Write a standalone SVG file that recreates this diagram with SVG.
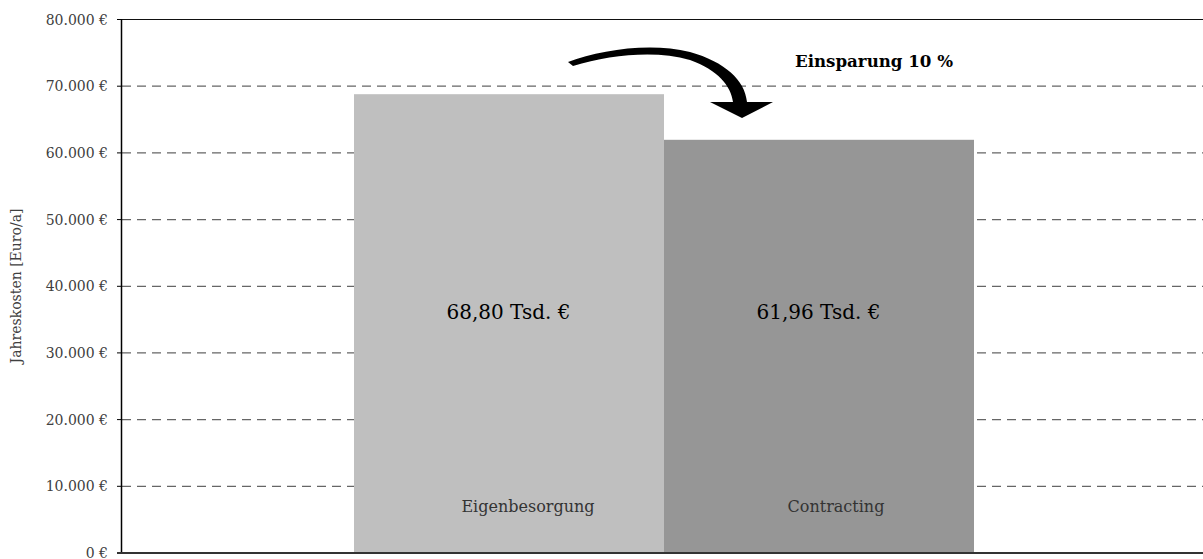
<svg xmlns="http://www.w3.org/2000/svg" width="1203" height="559" viewBox="0 0 1203 559">
<style>
.grid{stroke:#666;stroke-width:1.2;stroke-dasharray:9 6;fill:none}
.tick{stroke:#000;stroke-width:1}
.tl{font-family:"DejaVu Serif","Liberation Serif",serif;font-size:14px;fill:#404040;text-anchor:end}
.val{font-family:"DejaVu Serif","Liberation Serif",serif;font-size:20px;fill:#000;text-anchor:middle}
.cat{font-family:"DejaVu Serif","Liberation Serif",serif;font-size:16px;fill:#333;text-anchor:middle}
</style>
<rect width="1203" height="559" fill="#fff"/>
<g id="grid">
<line class="grid" x1="122" y1="486.3" x2="1203" y2="486.3"/>
<line class="grid" x1="122" y1="419.6" x2="1203" y2="419.6"/>
<line class="grid" x1="122" y1="352.9" x2="1203" y2="352.9"/>
<line class="grid" x1="122" y1="286.3" x2="1203" y2="286.3"/>
<line class="grid" x1="122" y1="219.6" x2="1203" y2="219.6"/>
<line class="grid" x1="122" y1="152.9" x2="1203" y2="152.9"/>
<line class="grid" x1="122" y1="86.2" x2="1203" y2="86.2"/>
<line x1="121" y1="19.5" x2="1203" y2="19.5" stroke="#111" stroke-width="1.2"/>
</g>
<g id="bar-eigenbesorgung">
<rect x="354" y="94.2" width="310" height="458.8" fill="#bfbfbf"/>
<text class="val" x="508.5" y="319">68,80 Tsd. €</text>
<text class="cat" x="528" y="512">Eigenbesorgung</text>
</g>
<g id="bar-contracting">
<rect x="664" y="139.8" width="310" height="413.2" fill="#969696"/>
<text class="val" x="818.5" y="319">61,96 Tsd. €</text>
<text class="cat" x="836" y="512">Contracting</text>
</g>
<g id="axes">
<line x1="121.5" y1="19" x2="121.5" y2="554" stroke="#000" stroke-width="1.5"/>
<line x1="117" y1="553" x2="1203" y2="553" stroke="#333" stroke-width="2"/>
<line class="tick" x1="117" y1="19.5" x2="121" y2="19.5"/>
<line class="tick" x1="117" y1="86.2" x2="121" y2="86.2"/>
<line class="tick" x1="117" y1="152.9" x2="121" y2="152.9"/>
<line class="tick" x1="117" y1="219.6" x2="121" y2="219.6"/>
<line class="tick" x1="117" y1="286.3" x2="121" y2="286.3"/>
<line class="tick" x1="117" y1="352.9" x2="121" y2="352.9"/>
<line class="tick" x1="117" y1="419.6" x2="121" y2="419.6"/>
<line class="tick" x1="117" y1="486.3" x2="121" y2="486.3"/>
<text class="tl" x="108" y="24.5">80.000 €</text>
<text class="tl" x="108" y="91.2">70.000 €</text>
<text class="tl" x="108" y="157.9">60.000 €</text>
<text class="tl" x="108" y="224.6">50.000 €</text>
<text class="tl" x="108" y="291.3">40.000 €</text>
<text class="tl" x="108" y="357.9">30.000 €</text>
<text class="tl" x="108" y="424.6">20.000 €</text>
<text class="tl" x="108" y="491.3">10.000 €</text>
<text class="tl" x="108" y="558">0 €</text>
<text font-family="DejaVu Serif, Liberation Serif, serif" font-size="14" fill="#404040" text-anchor="middle" transform="translate(21,286) rotate(-90)">Jahreskosten [Euro/a]</text>
</g>
<g id="connectors">
<path d="M 568,62 C 600,50 650,42 690,52 C 725,62 745,80 747,102 L 773,102 L 742,118 L 710,102 L 733,102 C 731,86 718,70 690,60 C 655,50 610,55 573,66 Z" fill="#000"/>
</g>
<g id="label-einsparung">
<text x="795" y="67" font-family="DejaVu Serif, Liberation Serif, serif" font-size="16" font-weight="bold" fill="#000" textLength="158" lengthAdjust="spacingAndGlyphs">Einsparung 10 %</text>
</g>
</svg>
